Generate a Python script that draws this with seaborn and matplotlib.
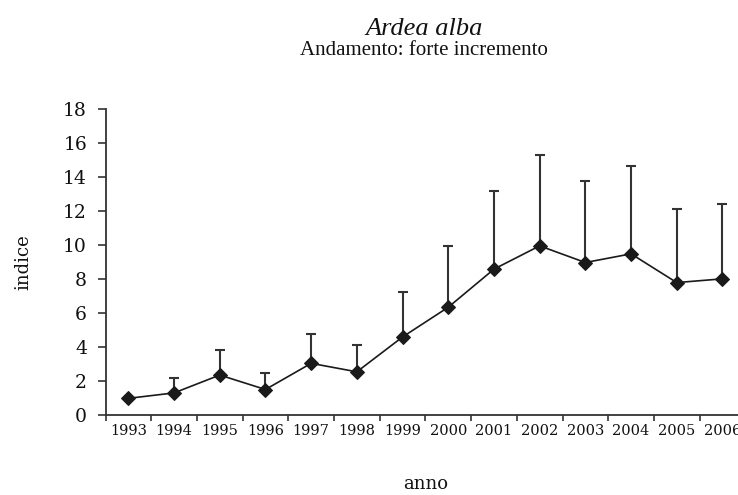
import numpy as np
import pandas as pd
import matplotlib
matplotlib.use("Agg")
import matplotlib.pyplot as plt
import seaborn as sns

# ---- data ----
years = ["1993", "1994", "1995", "1996", "1997", "1998", "1999",
         "2000", "2001", "2002", "2003", "2004", "2005", "2006"]
index_vals = [0.95, 1.27, 2.32, 1.47, 3.01, 2.51, 4.56,
              6.31, 8.55, 9.92, 8.94, 9.45, 7.76, 7.98]
upper_vals = [0.95, 2.16, 3.81, 2.42, 4.75, 4.07, 7.21,
              9.94, 13.17, 15.29, 13.74, 14.60, 12.09, 12.38]
y_ticks = [0, 2, 4, 6, 8, 10, 12, 14, 16, 18]

title_text = "Ardea alba"
subtitle_text = "Andamento: forte incremento"
xlabel_text = "anno"
ylabel_text = "indice"

df = pd.DataFrame({"anno": years, "indice": index_vals, "sup": upper_vals})
df["pos"] = np.arange(len(df))

sns.set_style("ticks")
plt.rcParams["font.family"] = ["DejaVu Serif"]

W, H = 738, 495
fig = plt.figure(figsize=(W / 100, H / 100), dpi=100)
ax_left, ax_right = 105.5, 105.5 + 14 * 45.7
ax_bottom, ax_top = 414.5, 108.5
ax = fig.add_axes([ax_left / W, (H - ax_bottom) / H,
                   (ax_right - ax_left) / W, (ax_bottom - ax_top) / H])

ink = "#1a1a1a"
# upward-only error bars
eb = ax.errorbar(df["pos"], df["indice"],
                 yerr=[np.zeros(len(df)), df["sup"] - df["indice"]],
                 fmt="none", ecolor="#333333", elinewidth=1.5,
                 capsize=3.6, capthick=1.5, zorder=2)
for cl in eb[1]:
    if np.allclose(cl.get_ydata(), df["indice"].values):
        cl.set_visible(False)

sns.lineplot(data=df, x="pos", y="indice", ax=ax, color=ink,
             linewidth=1.2, marker="D", markersize=7,
             markeredgecolor=ink, markerfacecolor=ink, zorder=3)

ax.set_xlim(-0.5, len(df) - 0.5)
ax.set_ylim(0, 18)
ax.set_yticks(y_ticks)
ax.set_yticklabels([str(v) for v in y_ticks])

# boundary ticks (major) and centered labels (minor)
ax.set_xticks(np.arange(len(df) + 1) - 0.5)
ax.set_xticklabels([])
ax.set_xticks(df["pos"], minor=True)
ax.set_xticklabels(years, minor=True)
ax.tick_params(axis="x", which="major", length=4.5, width=1.2,
               color="#333333", direction="out")
ax.tick_params(axis="x", which="minor", length=0, pad=6.5,
               labelsize=10.5, labelcolor="#111111")
ax.tick_params(axis="y", length=5.8, width=1.2, color="#333333",
               pad=7.5, labelsize=13.5, labelcolor="#111111")

sns.despine(ax=ax)
for s in ("left", "bottom"):
    ax.spines[s].set_linewidth(1.3)
    ax.spines[s].set_color("#333333")

ax.set_xlabel(xlabel_text, fontsize=13, color="#111111")
ax.set_ylabel(ylabel_text, fontsize=13, color="#111111")
axw, axh = ax_right - ax_left, ax_bottom - ax_top
ax.xaxis.label.set_va("center")
ax.xaxis.set_label_coords((426 - ax_left) / axw, (ax_bottom - 484) / axh)
ax.yaxis.label.set_va("center")
ax.yaxis.set_label_coords((23 - ax_left) / axw, (ax_bottom - 262) / axh)

fig.text(424 / W, 1 - 35 / H, title_text, ha="center", va="baseline",
         fontsize=19, style="italic", family=["Liberation Serif"], color="#111111")
fig.text(424 / W, 1 - 55 / H, subtitle_text, ha="center", va="baseline",
         fontsize=15, family=["Liberation Serif"], color="#111111")

fig.savefig("out.png", dpi=100)
